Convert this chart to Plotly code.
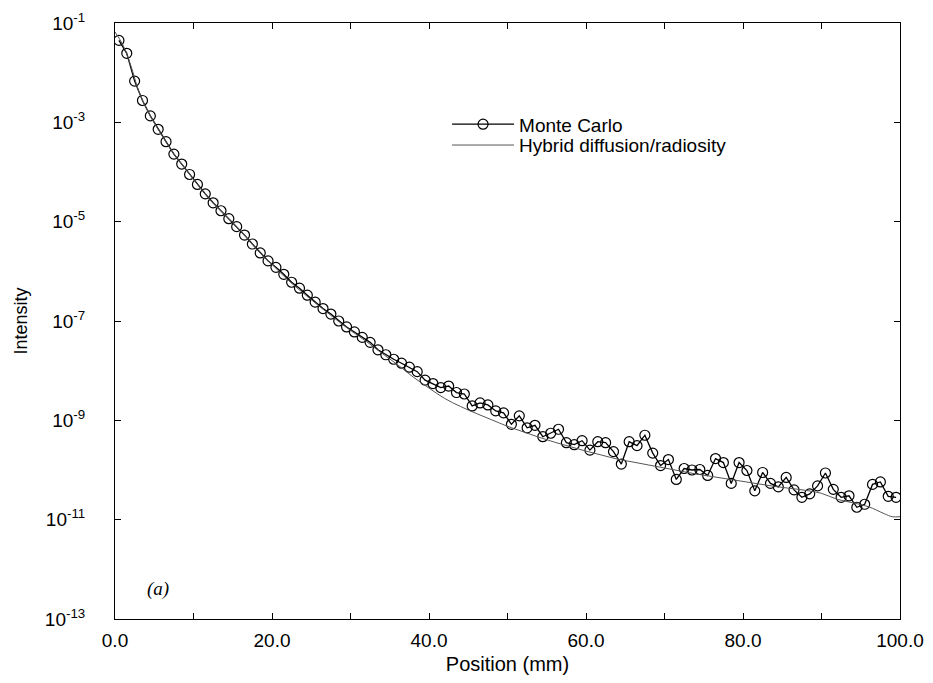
import plotly.graph_objects as go

# Monte Carlo data (x in mm, log10 of intensity)
mc_x = [i + 0.5 for i in range(100)]
mc_log = [
    -1.35, -1.61, -2.17, -2.56, -2.87, -3.14, -3.39, -3.64, -3.84, -4.05,
    -4.25, -4.44, -4.62, -4.78, -4.94, -5.10, -5.27, -5.45, -5.63, -5.79,
    -5.92, -6.06, -6.22, -6.34, -6.48, -6.62, -6.75, -6.86, -7.00, -7.12,
    -7.22, -7.33, -7.43, -7.58, -7.68, -7.77, -7.85, -7.93, -8.02, -8.19,
    -8.26, -8.34, -8.31, -8.44, -8.47, -8.71, -8.65, -8.69, -8.81, -8.85,
    -9.08, -8.91, -9.15, -9.10, -9.33, -9.26, -9.18, -9.45, -9.49, -9.41,
    -9.60, -9.43, -9.45, -9.63, -9.88, -9.43, -9.51, -9.30, -9.66, -9.91,
    -9.79, -10.19, -9.97, -10.00, -9.99, -10.11, -9.77, -9.85, -10.27, -9.85,
    -10.01, -10.42, -10.05, -10.27, -10.34, -10.15, -10.40, -10.55, -10.48, -10.32,
    -10.06, -10.39, -10.55, -10.52, -10.75, -10.69, -10.29, -10.24, -10.53, -10.55,
]
mc_y = [10 ** v for v in mc_log]

# Hybrid diffusion/radiosity curve
hy_x = [0, 1, 2, 3, 4, 5, 6, 7, 8, 9, 10, 12, 14, 16, 18, 20, 22, 24, 26, 28,
        30, 32, 34, 36, 38, 40, 42, 44, 46, 48, 50, 52, 54, 56, 58, 60, 62, 64,
        66, 68, 70, 72, 74, 76, 78, 80, 82, 84, 86, 88, 90, 92, 94, 96, 98, 99, 100]
hy_log = [-1.18, -1.44, -1.85, -2.36, -2.72, -3.01, -3.27, -3.52, -3.74, -3.94,
          -4.15, -4.54, -4.86, -5.18, -5.55, -5.86, -6.17, -6.44, -6.70, -6.95,
          -7.19, -7.41, -7.65, -7.88, -8.13, -8.35, -8.56, -8.72, -8.86, -8.99,
          -9.12, -9.23, -9.34, -9.44, -9.53, -9.62, -9.70, -9.78, -9.84, -9.90,
          -9.96, -10.02, -10.08, -10.13, -10.18, -10.23, -10.28, -10.33, -10.37, -10.41,
          -10.47, -10.59, -10.66, -10.74, -10.88, -10.94, -10.94]
hy_y = [10 ** v for v in hy_log]

x_tickvals = [0, 10, 20, 30, 40, 50, 60, 70, 80, 90, 100]
x_ticktext = ["0.0", "", "20.0", "", "40.0", "", "60.0", "", "80.0", "", "100.0"]
y_exps = [-1, -3, -5, -7, -9, -11, -13]

FONT = "Liberation Sans, Arial, sans-serif"

fig = go.Figure()
fig.add_trace(go.Scatter(
    x=mc_x, y=mc_y, mode="lines+markers", name="Monte Carlo",
    line=dict(color="black", width=1.3),
    marker=dict(symbol="circle-open", size=10, color="black", line=dict(width=1.2)),
    legend="legend",
))
fig.add_trace(go.Scatter(
    x=hy_x, y=hy_y, mode="lines", name="Hybrid diffusion/radiosity",
    line=dict(color="#555555", width=1, shape="spline"),
    legend="legend2",
))

leg_common = dict(
    xanchor="left", yanchor="middle", bgcolor="rgba(0,0,0,0)", itemwidth=62,
    font=dict(family=FONT, size=19, color="black"),
)

fig.update_layout(
    width=917, height=667,
    margin=dict(l=107, r=25, t=15, b=56, autoexpand=False),
    paper_bgcolor="white", plot_bgcolor="white",
    font=dict(family=FONT, size=18, color="black"),
    legend=dict(x=0.423, y=0.83, **leg_common),
    legend2=dict(x=0.423, y=0.795, **leg_common),
    showlegend=True,
    annotations=[dict(
        x=0.038, y=0.05, xref="paper", yref="paper", text="(a)", showarrow=False,
        font=dict(family="Liberation Serif, serif", size=19, color="black", style="italic"),
        xanchor="left", yanchor="middle",
    )],
)
fig.update_xaxes(
    range=[0, 100], tickvals=x_tickvals, ticktext=x_ticktext,
    ticks="inside", ticklen=6, tickcolor="black",
    showline=True, linecolor="black", linewidth=1, mirror="ticks",
    showgrid=False, zeroline=False, automargin=False,
    ticklabelstandoff=4, ticklabeloverflow="allow",
    title=dict(text="Position (mm)", font=dict(size=20), standoff=8),
    tickfont=dict(size=19),
)
fig.update_yaxes(
    type="log", range=[-13, -1],
    tickvals=[10 ** e for e in y_exps],
    ticktext=["10<sup>%d</sup>" % e for e in y_exps],
    ticks="inside", ticklen=6, tickcolor="black",
    showline=True, linecolor="black", linewidth=1, mirror="ticks",
    showgrid=False, zeroline=False, automargin=False,
    ticklabelstandoff=25,
    title=dict(text="Intensity", font=dict(size=18), standoff=12),
    tickfont=dict(size=19),
)

fig.write_html("out.html")
